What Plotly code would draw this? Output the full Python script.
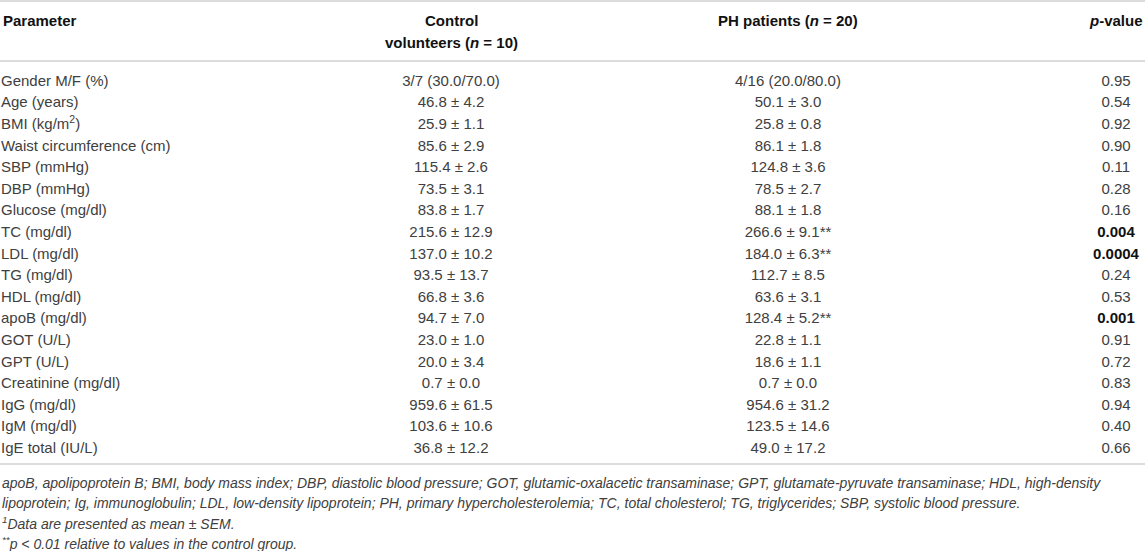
import plotly.graph_objects as go

# table content
params = [
    "Gender M/F (%)", "Age (years)", "BMI (kg/m<sup>2</sup>)", "Waist circumference (cm)",
    "SBP (mmHg)", "DBP (mmHg)", "Glucose (mg/dl)", "TC (mg/dl)", "LDL (mg/dl)",
    "TG (mg/dl)", "HDL (mg/dl)", "apoB (mg/dl)", "GOT (U/L)", "GPT (U/L)",
    "Creatinine (mg/dl)", "IgG (mg/dl)", "IgM (mg/dl)", "IgE total (IU/L)",
]
control = [
    "3/7 (30.0/70.0)", "46.8 ± 4.2", "25.9 ± 1.1", "85.6 ± 2.9", "115.4 ± 2.6",
    "73.5 ± 3.1", "83.8 ± 1.7", "215.6 ± 12.9", "137.0 ± 10.2", "93.5 ± 13.7",
    "66.8 ± 3.6", "94.7 ± 7.0", "23.0 ± 1.0", "20.0 ± 3.4", "0.7 ± 0.0",
    "959.6 ± 61.5", "103.6 ± 10.6", "36.8 ± 12.2",
]
ph_patients = [
    "4/16 (20.0/80.0)", "50.1 ± 3.0", "25.8 ± 0.8", "86.1 ± 1.8", "124.8 ± 3.6",
    "78.5 ± 2.7", "88.1 ± 1.8", "266.6 ± 9.1**", "184.0 ± 6.3**", "112.7 ± 8.5",
    "63.6 ± 3.1", "128.4 ± 5.2**", "22.8 ± 1.1", "18.6 ± 1.1", "0.7 ± 0.0",
    "954.6 ± 31.2", "123.5 ± 14.6", "49.0 ± 17.2",
]
p_values = [
    "0.95", "0.54", "0.92", "0.90", "0.11", "0.28", "0.16", "0.004", "0.0004",
    "0.24", "0.53", "0.001", "0.91", "0.72", "0.83", "0.94", "0.40", "0.66",
]
headers = [
    "Parameter",
    "Control",
    "volunteers (<i>n</i> = 10)",
    "PH patients (<i>n</i> = 20)",
    "<i>p</i>-value",
]
footnotes = [
    "apoB, apolipoprotein B; BMI, body mass index; DBP, diastolic blood pressure; GOT, "
    "glutamic-oxalacetic transaminase; GPT, glutamate-pyruvate transaminase; HDL, high-density",
    "lipoprotein; Ig, immunoglobulin; LDL, low-density lipoprotein; PH, primary "
    "hypercholesterolemia; TC, total cholesterol; TG, triglycerides; SBP, systolic blood pressure.",
    "<sup>1</sup>Data are presented as mean ± SEM.",
    "<sup>**</sup>p < 0.01 relative to values in the control group.",
]

W, H = 1145, 551
FONT = "Liberation Sans, Arial, Helvetica, sans-serif"
BODY = "#404040"
DARK = "#111111"
RULE = "#dcdcdc"

# column anchors (pixel x) and row layout (pixel y)
X_PARAM, X_CTRL, X_PH, X_P = 1, 451, 788, 1116
ROW0, ROW_H = 82, 21.6

p_text = [f"<b>{p}</b>" if float(p) < 0.01 else p for p in p_values]
p_color = [DARK if float(p) < 0.01 else BODY for p in p_values]

fig = go.Figure()
fig.add_trace(
    go.Scatter(
        x=[X_PARAM] * len(params), y=params, text=params, mode="text",
        textposition="middle right", textfont=dict(family=FONT, size=15, color=BODY),
        hoverinfo="skip",
    )
)
for xc, vals, cols in [
    (X_CTRL, control, BODY),
    (X_PH, ph_patients, BODY),
    (X_P, p_text, p_color),
]:
    fig.add_trace(
        go.Scatter(
            x=[xc] * len(params), y=params, text=vals, mode="text",
            textposition="middle center",
            textfont=dict(family=FONT, size=15, color=cols),
            hoverinfo="skip",
        )
    )


def py(px):
    return 1 - px / H


head_pos = [(X_PARAM, 21, "left"), (X_CTRL, 21, "center"), (X_CTRL, 43, "center"),
            (X_PH, 21, "center"), (X_P, 21, "center")]
for txt, (hx, hy, anc) in zip(headers, head_pos):
    fig.add_annotation(
        x=hx, y=py(hy), xref="x", yref="paper", text=f"<b>{txt}</b>",
        xanchor=anc, yanchor="middle", showarrow=False,
        font=dict(family=FONT, size=15, color=DARK),
    )

for txt, fy in zip(footnotes, [483, 503, 523, 543]):
    fig.add_annotation(
        x=0, y=py(fy), xref="x", yref="paper", text=f"<i>{txt}</i>",
        xanchor="left", yanchor="middle", showarrow=False,
        font=dict(family=FONT, size=14, color=BODY),
    )

for ly in [1, 61, 464]:
    fig.add_shape(
        type="line", xref="paper", yref="paper", x0=0, x1=1, y0=py(ly), y1=py(ly),
        line=dict(color=RULE, width=2),
    )

fig.update_xaxes(range=[0, W], visible=False, fixedrange=True)
fig.update_yaxes(
    type="category", categoryorder="array", categoryarray=params,
    range=[(H - ROW0) / ROW_H, -ROW0 / ROW_H], visible=False, fixedrange=True,
)
fig.update_layout(
    width=W, height=H, margin=dict(l=0, r=0, t=0, b=0),
    paper_bgcolor="white", plot_bgcolor="white", showlegend=False,
)
fig.write_html(
    "out.html",
    config={"displayModeBar": False},
    post_script="document.body.style.margin='0';",
)
